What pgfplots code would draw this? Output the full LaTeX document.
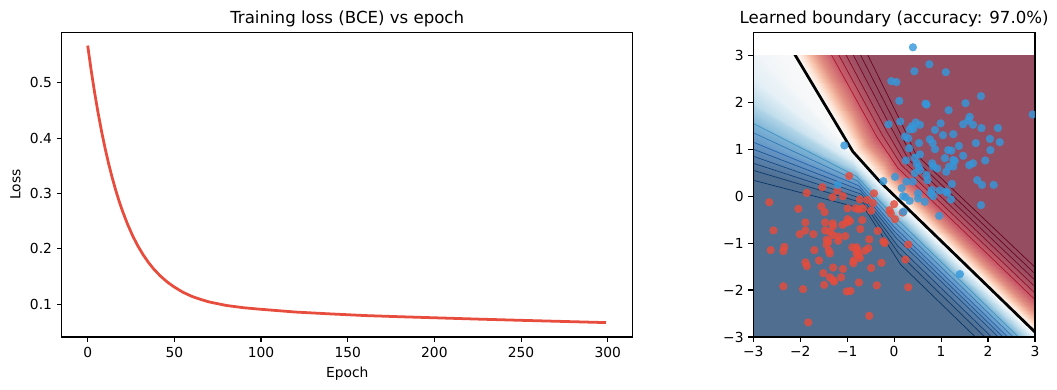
\documentclass[border=0pt]{standalone}
\usepackage{fontspec}
\setmainfont{DejaVu Sans}
\usepackage{pgfplots}
\pgfplotsset{compat=1.18}

\definecolor{lossred}{RGB}{231,76,60}
\definecolor{ptred}{RGB}{231,76,60}
\definecolor{ptblue}{RGB}{52,152,219}
\definecolor{bgblue}{RGB}{80,110,144}
\definecolor{bgred}{RGB}{149,77,98}

\pgfplotsset{
  colormap={sig}{rgb255(0cm)=(80,110,144) rgb255(0.956cm)=(90,129,171) rgb255(1.703cm)=(100,148,197) rgb255(2.514cm)=(123,179,213) rgb255(3.053cm)=(179,214,232) rgb255(3.495cm)=(223,237,245) rgb255(3.9cm)=(249,249,249) rgb255(4.305cm)=(254,230,216) rgb255(4.747cm)=(247,192,168) rgb255(5.286cm)=(226,144,130) rgb255(6.097cm)=(201,93,107) rgb255(6.844cm)=(175,85,102) rgb255(7.8cm)=(149,77,98)},
  mpl/.style={scale only axis, tick align=outside, tick pos=left,
    major tick length=3.5pt, tick style={black, line width=0.8pt},
    axis line style={line width=0.8pt},
    tick label style={font=\fontsize{10}{12}\selectfont},
    /pgf/number format/assume math mode=true,
    title style={font=\fontsize{12}{14}\selectfont, yshift=-5.5pt},
    label style={font=\fontsize{10}{12}\selectfont}},
}

\begin{document}
\begin{tikzpicture}
\path[use as bounding box] (0,0) rectangle (763.9pt,281.85pt);

% ---------------- Left: loss curve ----------------
\begin{axis}[mpl, at={(44.59pt,38.30pt)}, anchor=south west,
  width=412.66pt, height=220.21pt,
  xmin=-15, xmax=314.4, ymin=0.041, ymax=0.591,
  xtick={0,50,100,150,200,250,300},
  ytick={0.1,0.2,0.3,0.4,0.5}, yticklabels={0.1,0.2,0.3,0.4,0.5},
  title={Training loss (BCE) vs epoch},
  xlabel={Epoch}, ylabel={Loss}]
\addplot[lossred, line width=2pt] coordinates {
(0,0.567) (2,0.5225) (4,0.482) (6,0.4455) (8,0.4123) (10,0.3822) (12,0.3549)
(14,0.3302) (16,0.3078) (18,0.2874) (20,0.2690) (23,0.2445) (26,0.2233)
(29,0.2051) (32,0.1894) (35,0.1758) (38,0.1640) (42,0.1509) (46,0.1400)
(50,0.1311) (55,0.1217) (60,0.1144) (65,0.1090) (70,0.1043) (80,0.0979)
(90,0.0938) (100,0.0910) (120,0.0860) (140,0.0827) (160,0.0797)
(180,0.0776) (200,0.0757) (225,0.0733) (250,0.0711) (275,0.0690) (299,0.0670)
};
\end{axis}

% ---------------- Right: background field ----------------
\begin{axis}[at={(544.41pt,38.30pt)}, anchor=south west, scale only axis,
  width=203.59pt, height=203.58pt,
  xmin=-3, xmax=3, ymin=-3, ymax=3, hide axis, clip=true,
  colormap name=sig, point meta min=-3.9, point meta max=3.9]
\addplot[draw=none, fill=bgblue] coordinates {(-3.5,-3.5) (3.5,-3.5) (3.5,3.5) (-3.5,3.5)};
% blue side: rows are level lines f = 0,-0.15,-0.4,-0.85,-1.39,-2.2,-2.94,-3.9
\addplot[surf, shader=interp, mesh/rows=8, mesh/cols=4, point meta=explicit]
  table[row sep=\\, x=x, y=y, meta=f] {
x y f\\
-2.285 3.3 0\\ -0.88 0.95 0\\ -0.3 0.306 0\\ 3.5 -3.38 0\\
-3.3 3.419 -0.15\\ -0.95 0.92 -0.15\\ -0.2 0.139 -0.15\\ 3.5 -3.45 -0.15\\
-3.3 2.689 -0.4\\ -0.9 0.78 -0.4\\ -0.15 0.0215 -0.4\\ 3.5 -3.519 -0.4\\
-3.3 2.138 -0.85\\ -0.85 0.6 -0.85\\ -0.1 -0.167 -0.85\\ 3.5 -3.659 -0.85\\
-3.3 1.704 -1.39\\ -0.8 0.42 -1.39\\ -0.05 -0.3825 -1.39\\ 3.5 -3.826 -1.39\\
-3.3 1.274 -2.2\\ -0.75 0.22 -2.2\\ 0 -0.654 -2.2\\ 3.5 -4.049 -2.2\\
-3.3 0.956 -2.94\\ -0.7 0.04 -2.94\\ 0.05 -0.8975 -2.94\\ 3.5 -4.244 -2.94\\
-3.3 0.639 -3.9\\ -0.65 -0.15 -3.9\\ 0.1 -1.224 -3.9\\ 3.5 -4.522 -3.9\\
};
% red side
\addplot[surf, shader=interp, mesh/rows=2, mesh/cols=4, point meta=explicit]
  table[row sep=\\, x=x, y=y, meta=f] {
x y f\\
-2.285 3.3 0\\ -0.88 0.95 0\\ -0.3 0.306 0\\ 3.5 -3.38 0\\
-0.97 3.3 3.9\\ -0.02 1.46 3.9\\ 0.33 0.80 3.9\\ 3.5 -2.22 3.9\\
};
\addplot[draw=none, fill=bgred] coordinates {(-0.97,3.3) (-0.02,1.46) (0.33,0.80) (3.5,-2.22) (3.5,3.5) (-0.97,3.5)};
% contour lines, red side
\addplot[line width=0.5pt, color={rgb,255:red,169;green,21;blue,42}] coordinates {(-1.496,3.3) (-0.364,1.256) (0.078,0.602) (3.5,-2.684)};
\addplot[line width=0.5pt, color={rgb,255:red,146;green,14;blue,38}] coordinates {(-1.338,3.3) (-0.261,1.317) (0.154,0.662) (3.5,-2.545)};
\addplot[line width=0.5pt, color={rgb,255:red,130;green,9;blue,35}] coordinates {(-1.180,3.3) (-0.158,1.378) (0.229,0.721) (3.5,-2.406)};
\addplot[line width=0.5pt, color={rgb,255:red,120;green,6;blue,34}] coordinates {(-1.023,3.3) (-0.054,1.440) (0.305,0.780) (3.5,-2.266)};
\addplot[line width=0.5pt, color={rgb,255:red,110;green,3;blue,32}] coordinates {(-0.865,3.3) (0.049,1.501) (0.380,0.840) (3.5,-2.127)};
\addplot[line width=0.5pt, color={rgb,255:red,105;green,1;blue,31}] coordinates {(-0.707,3.3) (0.152,1.562) (0.456,0.899) (3.5,-1.988)};
% contour lines, blue side
\addplot[line width=0.5pt, color={rgb,255:red,67;green,147;blue,195}] coordinates {(-3.3,1.704) (-0.8,0.42) (-0.05,-0.3825) (3.5,-3.826)};
\addplot[line width=0.5pt, color={rgb,255:red,47;green,120;blue,181}] coordinates {(-3.3,1.489) (-0.775,0.32) (-0.025,-0.518) (3.5,-3.938)};
\addplot[line width=0.5pt, color={rgb,255:red,33;green,102;blue,172}] coordinates {(-3.3,1.274) (-0.75,0.22) (0,-0.654) (3.5,-4.049)};
\addplot[line width=0.5pt, color={rgb,255:red,25;green,86;blue,150}] coordinates {(-3.3,1.115) (-0.725,0.13) (0.025,-0.776) (3.5,-4.147)};
\addplot[line width=0.5pt, color={rgb,255:red,19;green,75;blue,135}] coordinates {(-3.3,0.956) (-0.7,0.04) (0.05,-0.8975) (3.5,-4.244)};
\addplot[line width=0.5pt, color={rgb,255:red,14;green,65;blue,121}] coordinates {(-3.3,0.798) (-0.675,-0.055) (0.075,-1.061) (3.5,-4.383)};
\addplot[line width=0.5pt, color={rgb,255:red,10;green,59;blue,112}] coordinates {(-3.3,0.639) (-0.65,-0.15) (0.1,-1.224) (3.5,-4.522)};
\addplot[line width=0.5pt, color={rgb,255:red,7;green,52;blue,103}] coordinates {(-3.3,0.417) (-0.615,-0.283) (0.135,-1.453) (3.5,-4.717)};
% decision boundary
\addplot[black, line width=2pt] coordinates {(-2.285,3.3) (-0.88,0.95) (-0.3,0.306) (3.5,-3.38)};
\end{axis}

% ---------------- Right: frame, ticks, points ----------------
\begin{axis}[mpl, at={(544.41pt,38.30pt)}, anchor=south west,
  width=203.59pt, height=220.21pt,
  xmin=-3, xmax=3, ymin=-3, ymax=3.49,
  xtick={-3,-2,-1,0,1,2,3}, ytick={-3,-2,-1,0,1,2,3},
  xticklabels={−3,−2,−1,0,1,2,3}, yticklabels={−3,−2,−1,0,1,2,3},
  title={Learned boundary (accuracy: 97.0\%)}, clip marker paths=true]
\addplot[ptred, only marks, mark=*, mark size=3pt, mark options={solid, fill=ptred, draw=ptred, draw opacity=0, fill opacity=0.82}] coordinates {
(-2.66,-0.13)(-2.04,-0.27)(-1.86,0.07)(-1.55,-0.22)(-1.48,-0.34)(-2.57,-0.73)(-2.01,-0.81)(-1.89,-0.56)(-1.89,-0.73)(-1.72,-0.81)(-1.47,-0.56)(-1.47,-0.73)(-1.31,-0.58)(-1.30,-0.64)(-1.37,-0.76)(-1.31,-0.83)(-1.44,-0.93)(-1.40,-0.97)(-1.19,-0.95)(-1.04,-0.85)(-1.10,-0.61)(-1.01,-0.56)(-0.94,-0.53)(-0.99,-0.26)(-1.09,0.00)(-1.31,-0.02)(-1.21,0.12)(-0.73,-0.07)(-0.66,-0.26)(-0.82,-0.26)(-0.57,-0.08)(-0.45,-0.15)(-0.43,0.06)(-0.68,-0.51)(-0.72,-0.70)(-0.89,-1.09)(-0.80,-1.09)(-0.79,-1.15)(-0.80,-1.22)(-0.75,-1.25)(-0.73,-1.32)(-0.86,-1.37)(-0.87,-1.43)(-0.62,-1.16)(-0.55,-1.11)(-0.53,-0.92)(-0.35,-0.74)(-0.23,-0.96)(-0.20,-1.00)(-0.27,-1.42)(-0.49,-1.53)(-0.37,-1.90)(-0.75,-1.84)(-1.01,-2.03)(-0.93,-2.02)(-0.53,-2.55)(-1.83,-2.69)(-2.36,-1.92)(-1.94,-1.98)(-1.49,-1.89)(-1.51,-1.64)(-1.37,-1.73)(-1.30,-1.79)(-1.28,-1.82)(-1.13,-1.73)(-1.30,-1.52)(-1.09,-1.55)(-1.60,-1.37)(-1.89,-1.41)(-1.86,-1.49)(-1.70,-1.15)(-1.39,-1.16)(-1.37,-1.22)(-1.19,-0.86)(-1.44,-1.04)(-2.63,-1.15)(-2.34,-1.08)(-2.36,-1.17)(-0.07,-0.37)(0.02,-0.49)(0.18,-0.35)(0.00,-0.17)(0.30,-1.03)(0.24,-1.35)(0.30,-1.94)(-0.96,0.43)(-1.53,0.19)(-0.99,-0.49)(-0.49,-0.31)(-0.75,-0.28)(-0.10,-0.30)
};
\addplot[ptblue, only marks, mark=*, mark size=3pt, mark options={solid, fill=ptblue, draw=ptblue, draw opacity=0, fill opacity=0.82}] coordinates {
(0.40,3.17)(0.75,2.81)(0.43,2.66)(1.10,2.64)(-0.06,2.45)(0.05,2.43)(0.11,2.03)(0.67,1.97)(0.69,1.95)(1.52,1.98)(1.85,2.13)(2.95,1.74)(1.16,1.83)(-0.12,1.53)(0.13,1.59)(0.46,1.57)(0.55,1.52)(0.38,1.49)(0.33,1.42)(0.41,1.43)(0.99,1.55)(0.87,1.41)(1.04,1.30)(1.26,1.32)(1.47,1.53)(1.58,1.61)(1.61,1.69)(1.68,1.52)(1.86,1.45)(2.21,1.45)(2.04,1.22)(2.25,1.15)(0.23,1.27)(0.30,1.23)(0.53,1.13)(0.76,1.21)(0.82,1.13)(0.32,1.02)(0.87,1.00)(1.15,0.98)(1.22,0.97)(1.38,1.07)(1.74,1.13)(2.05,0.98)(-1.06,1.08)(0.44,0.82)(0.55,0.89)(0.25,0.76)(1.08,0.81)(1.26,0.77)(1.29,0.75)(1.47,0.86)(1.68,0.70)(1.94,0.76)(0.48,0.70)(0.52,0.63)(0.02,0.41)(0.44,0.49)(0.55,0.56)(0.69,0.45)(0.81,0.70)(0.83,0.63)(0.92,0.59)(1.11,0.52)(1.17,0.63)(1.26,0.63)(1.60,0.66)(1.77,0.34)(1.87,0.24)(2.12,0.24)(0.26,0.31)(0.40,0.31)(0.16,0.17)(0.71,0.34)(1.23,0.26)(1.11,0.10)(0.78,0.06)(0.51,0.06)(-0.23,0.32)(-1.20,0.24)(0.19,0.00)(0.24,-0.02)(0.51,-0.05)(0.83,0.00)(1.13,0.07)(1.21,-0.07)(0.96,-0.42)(1.85,-0.19)(1.40,-1.66)(0.20,-0.33)(0.65,-0.12)(0.33,-0.10)(0.97,0.12)(0.80,0.13)
};
\end{axis}
\end{tikzpicture}
\end{document}
